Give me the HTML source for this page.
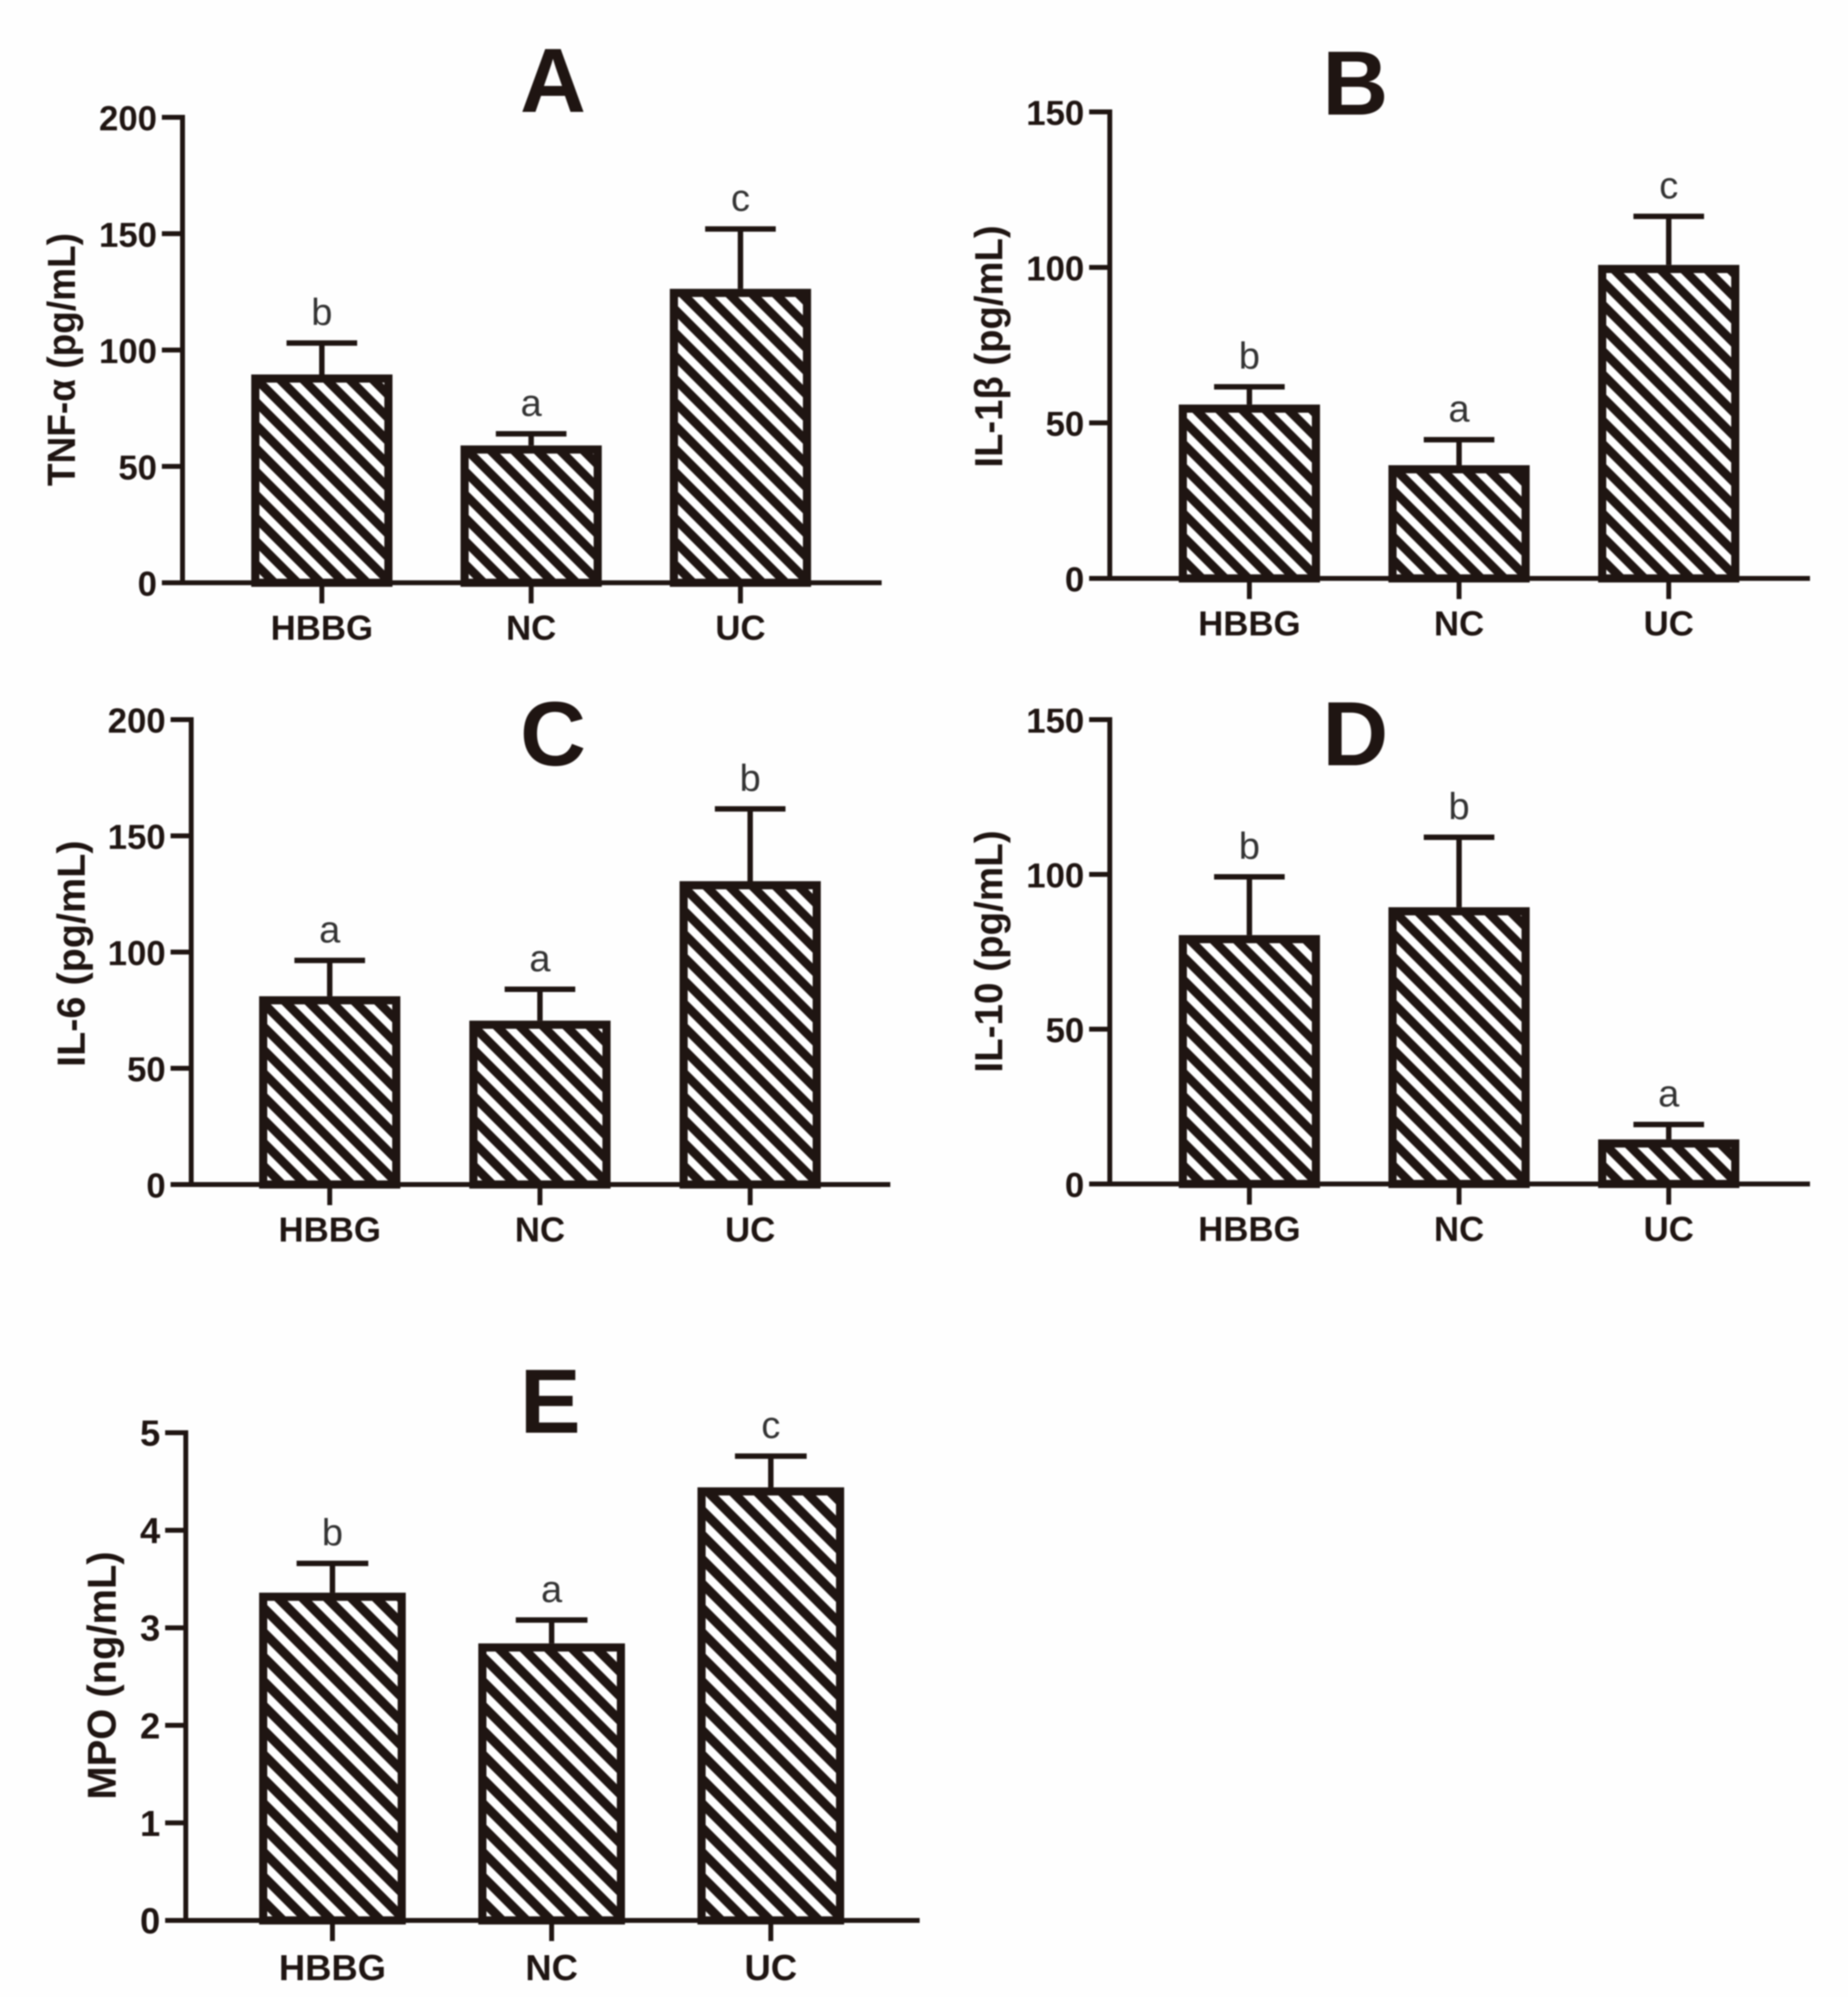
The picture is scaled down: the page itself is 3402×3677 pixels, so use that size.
<!DOCTYPE html>
<html lang="en">
<head>
<meta charset="utf-8">
<title>Cytokine bar charts</title>
<style>
html,body{margin:0;padding:0;background:#fefefe;}
#figure{display:block;width:3402px;height:3677px;filter:blur(1.2px);}
text{font-family:"Liberation Sans",sans-serif;fill:#1f1512;}
</style>
</head>
<body>
<svg id="figure" xmlns="http://www.w3.org/2000/svg" width="3402" height="3677" viewBox="0 0 3402 3677">
<defs id="patterns"></defs>
</svg>
<script>
const categories = ['HBBG', 'NC', 'UC'];

const panelATicks = [0, 50, 100, 150, 200];
const panelAValues = [89.5, 59, 126.3];
const panelAErrorTops = [103, 64, 152];
const panelALetters = ['b', 'a', 'c'];

const panelBTicks = [0, 50, 100, 150];
const panelBValues = [55.9, 36.4, 100.8];
const panelBErrorTops = [61.6, 44.6, 116.4];
const panelBLetters = ['b', 'a', 'c'];

const panelCTicks = [0, 50, 100, 150, 200];
const panelCValues = [81, 70.5, 130.5];
const panelCErrorTops = [96.4, 84, 161.6];
const panelCLetters = ['a', 'a', 'b'];

const panelDTicks = [0, 50, 100, 150];
const panelDValues = [80.4, 89.4, 14.4];
const panelDErrorTops = [99.2, 112, 19.2];
const panelDLetters = ['b', 'b', 'a'];

const panelETicks = [0, 1, 2, 3, 4, 5];
const panelEValues = [3.36, 2.84, 4.44];
const panelEErrorTops = [3.66, 3.08, 4.76];
const panelELetters = ['b', 'a', 'c'];

const INK = '#1f1512';
const BORDER = 15;
const svg = document.getElementById('figure');
const defs = document.getElementById('patterns');

function make(tag, attrs, parent, content) {
  const node = document.createElementNS('http://www.w3.org/2000/svg', tag);
  for (const key in attrs) node.setAttribute(key, attrs[key]);
  if (content !== undefined) node.textContent = content;
  parent.appendChild(node);
  return node;
}

function drawPanel(id, g, ticks, values, errorTops, letters) {
  const group = make('g', {}, svg);
  
  

  const maxTick = ticks[ticks.length - 1];
  const yScale = function (v) { return g.y0 + (g.yTop - g.y0) * v / maxTick; };
  const xScale = function (i) { return g.c0 + i * g.step; };

  const heading = make('text', {x: g.letterX, y: g.letterY, 'text-anchor': 'middle', 'font-size': 168, 'font-weight': 'bold'}, group, g.letter);
  
  

  const title = make('text', {
    transform: 'translate(' + g.titleX + ',' + g.titleY + ') rotate(-90)',
    'text-anchor': 'middle', 'font-size': g.titleSize, 'font-weight': 'bold',
    textLength: g.titleLen, lengthAdjust: 'spacingAndGlyphs'
  }, group, g.title);
  
  

  values.forEach(function (v, i) {
    const cx = xScale(i);
    const half = g.barW / 2;
    const topY = yScale(v);
    const capY = yScale(errorTops[i]);
    const cat = categories[i].toLowerCase();

    const stem = make('line', {x1: cx, x2: cx, y1: capY, y2: topY, stroke: INK, 'stroke-width': 10}, group);
    
    

    const cap = make('line', {x1: cx - g.capHalf, x2: cx + g.capHalf, y1: capY, y2: capY, stroke: INK, 'stroke-width': 10}, group);
    
    

    const patternId = 'hatch-' + id + '-' + cat;
    const pattern = make('pattern', {
      id: patternId, patternUnits: 'userSpaceOnUse', width: g.hatchPeriod, height: g.hatchPeriod,
      patternTransform: 'translate(' + (cx - half) + ',' + g.y0 + ') rotate(45)'
    }, defs);
    make('rect', {width: g.hatchPeriod, height: g.hatchPeriod, fill: INK}, pattern);
    make('rect', {y: g.hatchOffset, width: g.hatchPeriod, height: g.hatchWhite, fill: '#ffffff'}, pattern);

    const bar = make('rect', {
      x: cx - half + BORDER / 2, y: topY + BORDER / 2,
      width: g.barW - BORDER, height: Math.max(0, g.y0 - topY - BORDER / 2),
      fill: 'url(#' + patternId + ')', stroke: INK, 'stroke-width': BORDER
    }, group);
    
    

    const sig = make('text', {x: cx, y: capY - 33, 'text-anchor': 'middle', 'font-size': 70, style: 'fill:#333333'}, group, letters[i]);
    
    

    const xTick = make('line', {x1: cx, x2: cx, y1: g.y0, y2: g.y0 + 38, stroke: INK, 'stroke-width': 9}, group);
    
    

    const xLabel = make('text', {x: cx, y: g.y0 + g.xLabelDrop, 'text-anchor': 'middle', 'font-size': g.labelSize, 'font-weight': 'bold'}, group, categories[i]);
    
    
  });

  const yAxis = make('line', {x1: g.axisX, x2: g.axisX, y1: g.yTop - 4.5, y2: g.y0, stroke: INK, 'stroke-width': 9}, group);
  
  

  const xAxis = make('line', {x1: g.axisX - 38, x2: g.axisEnd, y1: g.y0, y2: g.y0, stroke: INK, 'stroke-width': 9}, group);
  
  

  ticks.forEach(function (t) {
    const ty = yScale(t);
    const yTick = make('line', {x1: g.axisX - 38, x2: g.axisX, y1: ty, y2: ty, stroke: INK, 'stroke-width': 9}, group);
    
    

    const yLabel = make('text', {x: g.axisX - 47, y: ty + 24, 'text-anchor': 'end', 'font-size': g.labelSize, 'font-weight': 'bold'}, group, String(t));
    
    
  });
}

drawPanel('a', {letter: 'A', letterX: 1018, letterY: 206, title: 'TNF-α (pg/mL)', titleX: 138, titleY: 662, titleLen: 466, titleSize: 72,
  axisX: 336, axisEnd: 1623, y0: 1073, yTop: 216, c0: 592.5, step: 385.3, barW: 260, capHalf: 65,
  labelSize: 64, xLabelDrop: 105, hatchPeriod: 30.2, hatchOffset: 8.1, hatchWhite: 14},
  panelATicks, panelAValues, panelAErrorTops, panelALetters);

drawPanel('b', {letter: 'B', letterX: 2495, letterY: 211, title: 'IL-1β (pg/mL)', titleX: 1845, titleY: 638, titleLen: 446, titleSize: 72,
  axisX: 2043, axisEnd: 3332, y0: 1065, yTop: 206, c0: 2300, step: 386, barW: 260, capHalf: 65,
  labelSize: 64, xLabelDrop: 105, hatchPeriod: 30.2, hatchOffset: 8.1, hatchWhite: 14},
  panelBTicks, panelBValues, panelBErrorTops, panelBLetters);

drawPanel('c', {letter: 'C', letterX: 1018, letterY: 1409, title: 'IL-6 (pg/mL)', titleX: 156, titleY: 1756, titleLen: 417, titleSize: 72,
  axisX: 352, axisEnd: 1639, y0: 2181, yTop: 1325, c0: 607, step: 387, barW: 260, capHalf: 65,
  labelSize: 64, xLabelDrop: 105, hatchPeriod: 30.2, hatchOffset: 8.1, hatchWhite: 14},
  panelCTicks, panelCValues, panelCErrorTops, panelCLetters);

drawPanel('d', {letter: 'D', letterX: 2495, letterY: 1409, title: 'IL-10 (pg/mL)', titleX: 1845, titleY: 1752, titleLen: 446, titleSize: 72,
  axisX: 2043, axisEnd: 3332, y0: 2180, yTop: 1325, c0: 2300, step: 386, barW: 260, capHalf: 65,
  labelSize: 64, xLabelDrop: 105, hatchPeriod: 30.2, hatchOffset: 8.1, hatchWhite: 14},
  panelDTicks, panelDValues, panelDErrorTops, panelDLetters);

drawPanel('e', {letter: 'E', letterX: 1013, letterY: 2638, title: 'MPO (ng/mL)', titleX: 213, titleY: 3085, titleLen: 457, titleSize: 74,
  axisX: 342, axisEnd: 1693, y0: 3536, yTop: 2638, c0: 612, step: 403.5, barW: 270, capHalf: 66,
  labelSize: 67, xLabelDrop: 110, hatchPeriod: 31.8, hatchOffset: 9.2, hatchWhite: 14.8},
  panelETicks, panelEValues, panelEErrorTops, panelELetters);
</script>
</body>
</html>
